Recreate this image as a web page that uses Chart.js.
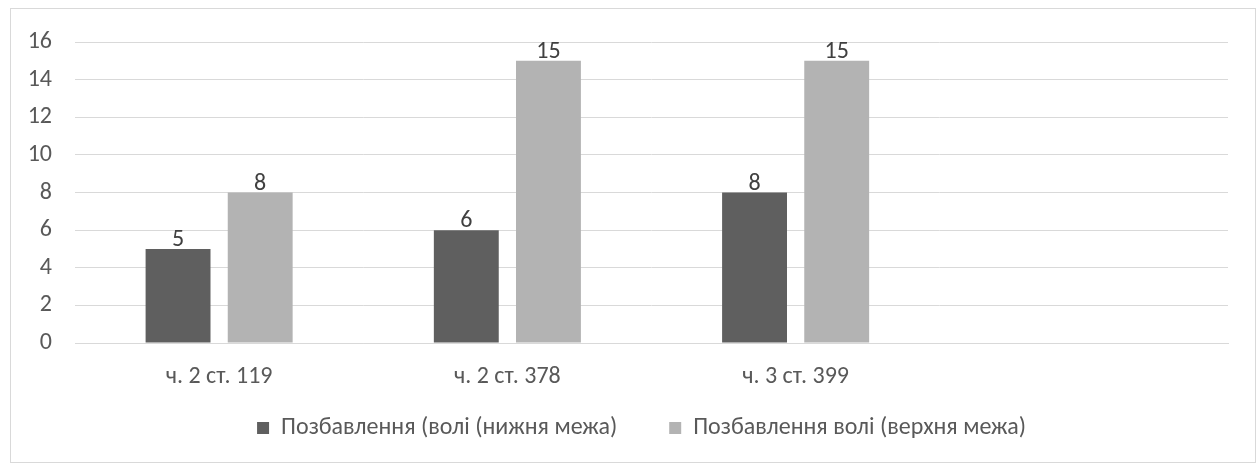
<!DOCTYPE html>
<html>
<head>
<meta charset="utf-8">
<script src="https://cdn.jsdelivr.net/npm/chart.js@4"></script>
<style>
    html, body { margin: 0; padding: 0; background: #fff; }
    #box {
        position: absolute;
        left: 10px;
        top: 8px;
        width: 1244px;
        height: 453px;
        border: 1px solid #d9d9d9;
    }
</style>
</head>
<body>
<div id="box"><canvas id="myChart" width="1244" height="453"></canvas></div>
<script>
const categories = ['ч. 2 ст. 119', 'ч. 2 ст. 378', 'ч. 3 ст. 399', ''];
const lowerBound = [5, 6, 8, null];
const upperBound = [8, 15, 15, null];
const seriesNames = ['Позбавлення (волі (нижня межа)', 'Позбавлення волі (верхня межа)'];
const yTicks = [0, 2, 4, 6, 8, 10, 12, 14, 16];

const fontFamily = 'Carlito, Calibri, Lato, sans-serif';
const fontSize = 24;
Chart.defaults.font.family = fontFamily;
Chart.defaults.font.size = fontSize;
Chart.defaults.color = '#595959';

// draws the value above each bar
const valueLabels = {
    id: 'valueLabels',
    afterDatasetsDraw(chart) {
        const ctx = chart.ctx;
        ctx.save();
        ctx.font = fontSize + 'px ' + fontFamily;
        ctx.fillStyle = '#404040';
        ctx.textAlign = 'center';
        ctx.textBaseline = 'alphabetic';
        chart.data.datasets.forEach((dataset, i) => {
            chart.getDatasetMeta(i).data.forEach((bar, j) => {
                const value = dataset.data[j];
                if (value == null) return;
                ctx.fillText(value, bar.x, bar.y - 3);
            });
        });
        ctx.restore();
    }
};

// legend padding is wide for the gap between items, pull it back up under the axis labels
const liftLegend = {
    id: 'liftLegend',
    afterLayout(chart) {
        chart.legend.top -= 28;
        chart.legend.left += 22;
        chart.legend.right += 22;
    }
};

const priceChart = new Chart(document.getElementById('myChart'), {
    type: 'bar',
    data: {
        labels: categories,
        datasets: [{
            label: seriesNames[0],
            data: lowerBound,
            backgroundColor: '#5f5f5f',
            categoryPercentage: 0.57,
            barPercentage: 0.79
        }, {
            label: seriesNames[1],
            data: upperBound,
            backgroundColor: '#b3b3b3',
            categoryPercentage: 0.57,
            barPercentage: 0.79
        }]
    },
    options: {
        responsive: false,
        animation: false,
        layout: {
            padding: { top: 33, right: 27, bottom: 0, left: 0 }
        },
        plugins: {
            legend: {
                position: 'bottom',
                maxHeight: 70,
                labels: {
                    boxWidth: 12,
                    boxHeight: 12,
                    padding: 52,
                    color: '#595959',
                    font: { size: fontSize }
                }
            },
            tooltip: { enabled: false }
        },
        scales: {
            x: {
                grid: { display: false, drawTicks: false },
                border: { color: '#d9d9d9', width: 1 },
                ticks: { padding: 20, color: '#595959', font: { size: fontSize } },
                afterFit(scale) { scale.height = 49; }
            },
            y: {
                min: 0,
                max: 16,
                afterBuildTicks(scale) { scale.ticks = yTicks.map(v => ({ value: v })); },
                grid: { color: '#d9d9d9', lineWidth: 1, drawTicks: false },
                border: { display: false },
                ticks: { padding: 23, color: '#595959', font: { size: fontSize } },
                afterFit(scale) {
                    scale.width = 64;
                    scale.paddingTop = 0;
                    scale.paddingBottom = 0;
                }
            }
        }
    },
    plugins: [valueLabels, liftLegend]
});
</script>
</body>
</html>
